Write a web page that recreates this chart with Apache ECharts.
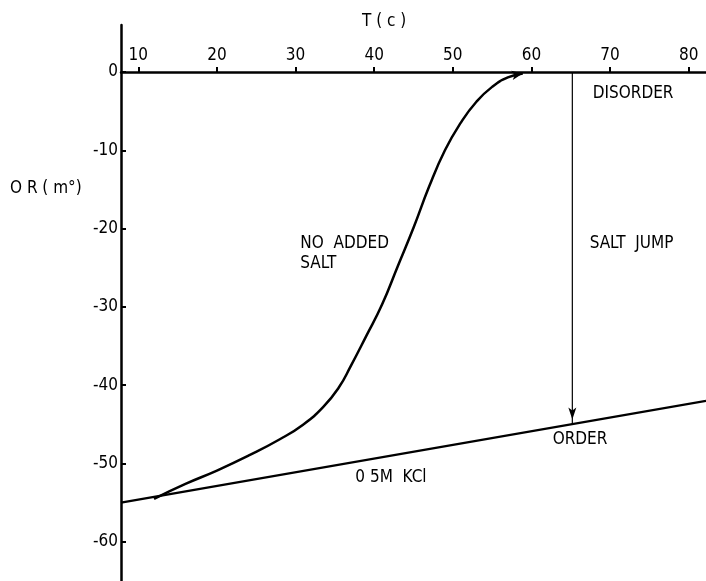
<!DOCTYPE html>
<html>
<head>
<meta charset="utf-8">
<script src="https://cdn.jsdelivr.net/npm/echarts@6/dist/echarts.min.js"></script>
<style>
html,body{margin:0;padding:0;background:#fff;}
#chart{width:706px;height:581px;}
</style>
</head>
<body>
<div id="chart"></div>
<script>
// ---- data ----
var xTicks = [10, 20, 30, 40, 50, 60, 70, 80];
var yTicks = [0, -10, -20, -30, -40, -50, -60];
var xRange = [7.8, 82.2];
var yRange = [-65, 6];

// no added salt curve (T, OR)
var noSaltT =  [12, 16, 20, 24, 28, 31, 33.5, 35.5, 37, 39, 41, 43, 45, 47, 49, 51, 53, 55, 57, 58.9];
var noSaltOR = [-54.5, -52.6, -50.9, -49.0, -46.9, -45.0, -42.8, -40.3, -37.6, -33.7, -29.7, -24.8, -19.9, -14.6, -10.0, -6.5, -3.8, -1.9, -0.7, -0.2];

// 0.5 M KCl straight line
var kclT = [7.8, 82.2];
var kclOR = [-55, -42];

// salt jump arrow
var jumpT = [65.2, 65.2];
var jumpOR = [0, -45];

// text annotations
var noteText = ['DISORDER', 'SALT  JUMP', 'NO  ADDED', 'SALT', 'ORDER', '0 5M  KCl'];
var noteT =    [67.8, 67.4, 30.6, 30.6, 62.7, 37.6];
var noteOR =   [-2.7, -21.9, -21.9, -24.5, -46.9, -51.8];

var FONT = "'Liberation Sans Narrow', 'DejaVu Sans Condensed', 'Liberation Sans', sans-serif";

function pairs(a, b) { return a.map(function (v, i) { return [v, b[i]]; }); }

var curveData = pairs(noSaltT, noSaltOR).map(function (p, i, arr) {
  if (i === arr.length - 1) {
    return { value: p, symbol: 'arrow', symbolSize: [7, 11], symbolRotate: -80 };
  }
  return { value: p, symbol: 'none' };
});

var jumpData = pairs(jumpT, jumpOR).map(function (p, i) {
  if (i === 1) return { value: p, symbol: 'arrow', symbolSize: [6, 12], symbolRotate: 180, symbolOffset: [0, -5] };
  return { value: p, symbol: 'none' };
});

var noteData = noteText.map(function (t, i) {
  return { name: t, value: [noteT[i], noteOR[i]] };
});

var gridTop = 25, gridH = 556;
// x axis sits at OR = 0
var zeroOffset = -(yRange[1] - 0) / (yRange[1] - yRange[0]) * gridH;

var chart = echarts.init(document.getElementById('chart'));
chart.setOption({
  animation: false,
  backgroundColor: '#fff',
  textStyle: { fontFamily: FONT },
  grid: { left: 121, right: 0, top: gridTop, height: gridH, containLabel: false },
  xAxis: {
    type: 'value',
    position: 'top',
    offset: zeroOffset,
    min: xRange[0], max: xRange[1],
    axisLine: { onZero: false, lineStyle: { color: '#000', width: 2.5 } },
    axisTick: { show: true, length: 5, customValues: xTicks, lineStyle: { color: '#000', width: 2 } },
    axisLabel: { customValues: xTicks, margin: 8, color: '#000', fontSize: 17, fontFamily: FONT },
    splitLine: { show: false }
  },
  yAxis: {
    type: 'value',
    min: yRange[0], max: yRange[1],
    axisLine: { onZero: false, lineStyle: { color: '#000', width: 2.5 } },
    axisTick: { show: true, inside: true, length: 5, customValues: yTicks, lineStyle: { color: '#000', width: 2 } },
    axisLabel: { customValues: yTicks, margin: 3, color: '#000', fontSize: 17, fontFamily: FONT },
    splitLine: { show: false }
  },
  graphic: [
    { type: 'text', left: 362, top: 13, style: { text: 'T ( c )', fill: '#000', font: '17px ' + FONT } },
    { type: 'text', left: 10, top: 180, style: { text: 'O R ( m°)', fill: '#000', font: '17px ' + FONT } }
  ],
  series: [
    {
      type: 'line', data: curveData, smooth: 0.5, showSymbol: true,
      lineStyle: { color: '#000', width: 2.5 }, itemStyle: { color: '#000' }, z: 3
    },
    {
      type: 'line', data: pairs(kclT, kclOR), symbol: 'none',
      lineStyle: { color: '#000', width: 2.2 }, z: 3
    },
    {
      type: 'line', data: jumpData, showSymbol: true,
      lineStyle: { color: '#000', width: 1.2 }, itemStyle: { color: '#000' }, z: 3
    },
    {
      type: 'scatter', data: noteData, symbolSize: 0, silent: true,
      label: {
        show: true, position: 'right', distance: 0, align: 'left', verticalAlign: 'middle',
        formatter: '{b}', color: '#000', opacity: 1, fontSize: 17, fontFamily: FONT, textBorderWidth: 0
      },
      itemStyle: { color: '#000', opacity: 1 }
    }
  ]
});
</script>
</body>
</html>
